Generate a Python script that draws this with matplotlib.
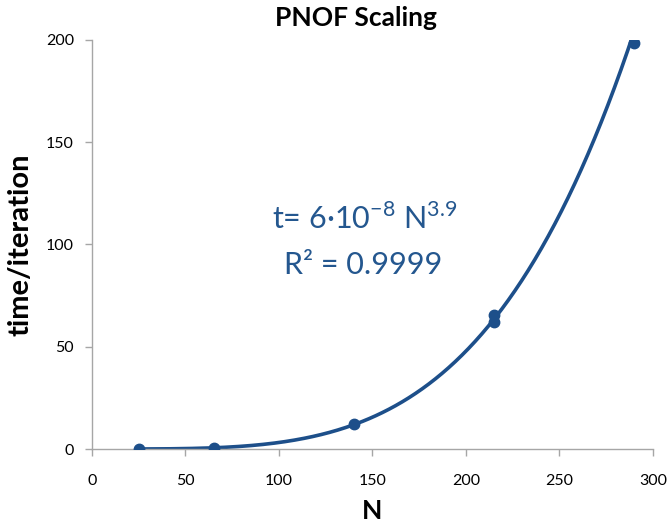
import numpy as np
import matplotlib
matplotlib.use('Agg')
import matplotlib.pyplot as plt

plt.rcParams['font.family'] = ['Lato', 'DejaVu Sans']
plt.rcParams['mathtext.fontset'] = 'custom'
plt.rcParams['mathtext.rm'] = 'Lato'

# measured points (N, time per iteration)
n_basis = [25, 65, 140, 215, 215, 290]
time_iter = [0.014, 0.6, 12.2, 62, 65.5, 198.5]

x_ticks = [0, 50, 100, 150, 200, 250, 300]
y_ticks = [0, 50, 100, 150, 200]

blue = '#1d4f8a'
gray = '#a6a6a6'

# power-law trendline fitted in log space
slope, icpt = np.polyfit(np.log(n_basis), np.log(time_iter), 1)
nn = np.linspace(min(n_basis), max(n_basis), 300)
fit = np.exp(icpt) * nn ** slope

fig = plt.figure(figsize=(6.69, 5.31), dpi=100)
ax = fig.add_axes([0.1375, 0.1544, 0.8385, 0.7703])

ax.plot(nn, fit, color=blue, lw=2.6, zorder=2)
ax.plot(n_basis, time_iter, 'o', color=blue, ms=7.5, zorder=3)

ax.set_xlim(0, 300)
ax.set_ylim(0, 200)
ax.set_xticks(x_ticks)
ax.set_yticks(y_ticks)
for s in ['top', 'right']:
    ax.spines[s].set_visible(False)
for s in ['left', 'bottom']:
    ax.spines[s].set_color(gray)
    ax.spines[s].set_linewidth(1.0)
ax.tick_params(colors=gray, labelcolor='black', labelsize=11.5, length=5, width=1.0)
ax.tick_params(axis='y', pad=8)
ax.tick_params(axis='x', pad=13)

ax.set_title('PNOF Scaling', fontsize=19, fontweight='bold', x=0.47, pad=10)
ax.set_xlabel('N', fontsize=19, fontweight='bold', labelpad=8)
ax.set_ylabel('time/iteration', fontsize=21, fontweight='bold', labelpad=9)

ax.text(146, 113, 't= 6·10$^{\\mathregular{-8}}$ N$^{\\mathregular{3.9}}$',
        color='#24578f', fontsize=22, ha='center', va='center')
ax.text(145, 90, 'R² = 0.9999', color='#24578f', fontsize=22,
        ha='center', va='center')

fig.savefig('out.png', dpi=100)
